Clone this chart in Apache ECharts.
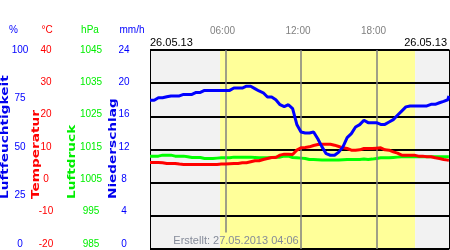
<!DOCTYPE html>
<html><head><meta charset="utf-8">
<script src="https://cdn.jsdelivr.net/npm/echarts@6/dist/echarts.min.js"></script>
<style>html,body{margin:0;padding:0;background:#fff}#c{width:450px;height:250px}</style>
</head><body><div id="c"></div><script>
const times = ['00:00','00:20','00:40','01:00','01:20','01:40','02:00','02:20','02:40','03:00','03:20','03:40',
'04:00','04:20','04:40','05:00','05:20','05:40','06:00','06:20','06:40','07:00','07:20','07:40',
'08:00','08:20','08:40','09:00','09:20','09:40','10:00','10:20','10:40','11:00','11:20','11:40',
'12:00','12:20','12:40','13:00','13:20','13:40','14:00','14:20','14:40','15:00','15:20','15:40',
'16:00','16:20','16:40','17:00','17:20','17:40','18:00','18:20','18:40','19:00','19:20','19:40',
'20:00','20:20','20:40','21:00','21:20','21:40','22:00','22:20','22:40','23:00','23:20','23:40','23:45'];
const humidity = [74.7,74.7,76.0,76.0,76.5,76.9,76.9,76.9,77.7,77.7,77.7,78.7,
78.7,79.7,79.7,79.7,79.7,79.7,79.7,79.7,80.9,80.9,80.9,81.8,
81.8,80.6,79.4,78.5,76.4,76.4,75.0,72.5,71.5,72.5,70.5,62.6,
58.8,58.3,58.3,58.8,55.4,51.3,47.9,47.1,47.1,48.7,51.3,56.0,
58.0,61.3,62.5,64.7,63.5,63.5,63.5,62.6,62.6,63.8,65.0,67.2,
69.3,71.4,71.9,71.9,71.9,71.9,71.9,72.7,72.7,73.5,74.2,75.0,76.9];
const temperature = [6.1,6.1,6.1,6.0,5.8,5.8,5.8,5.6,5.5,5.5,5.5,5.5,
5.5,5.5,5.5,5.5,5.5,5.6,5.6,5.7,5.8,5.8,6.0,6.0,
6.3,6.6,6.6,7.0,7.3,7.6,7.6,8.3,8.6,8.6,8.5,9.8,
10.5,10.6,10.8,11.2,11.5,11.6,11.6,11.6,11.3,10.9,10.5,10.3,
9.8,9.8,9.9,10.3,10.3,10.3,10.4,10.5,9.9,9.8,9.3,8.9,
8.3,8.3,8.3,8.3,8.0,8.0,7.8,7.8,7.5,7.3,7.0,6.8,6.7];
const pressure = [1013.0,1013.0,1013.0,1013.3,1013.3,1013.3,1013.0,1013.0,1013.0,1012.8,1012.6,1012.6,
1012.6,1012.3,1012.3,1012.3,1012.4,1012.5,1012.5,1012.5,1012.7,1012.7,1012.7,1012.7,
1012.7,1012.6,1012.5,1012.5,1012.5,1012.6,1012.7,1012.7,1013.0,1013.0,1012.6,1012.5,
1012.4,1012.3,1012.0,1012.0,1011.9,1011.8,1011.8,1011.8,1011.8,1011.8,1011.9,1012.0,
1012.0,1012.0,1012.0,1012.1,1012.0,1012.1,1012.3,1012.5,1012.5,1012.5,1012.6,1012.7,
1012.8,1012.8,1012.8,1012.8,1012.8,1012.8,1012.8,1012.8,1012.8,1012.8,1012.8,1012.8,1012.8];
const daylight = ['05:34','21:04'];
const hourMarks = [6, 12, 18];
const humidityTicks = [0, 25, 50, 75, 100];
const pressureTicks = [985, 995, 1005, 1015, 1025, 1035, 1045];
const dateLabel = '26.05.13';
const createdLabel = 'Erstellt: 27.05.2013 04:06';

function toH(s){const p=s.split(':').map(Number);return p[0]+p[1]/60;}
const xs = times.map(toH);
const pairs = arr => arr.map((v,i)=>[xs[i],v]);
const F = '"Liberation Sans", Arial, sans-serif';
const TF = '"DejaVu Sans", sans-serif';
const xMax = 23.76;
const dayStart = toH(daylight[0]), dayEnd = toH(daylight[1]);
const BLUE='#0000ff', RED='#ff0000', GREEN='#00ee00';

function labelAxis(extra, color, offset){
  return Object.assign({gridIndex:1,type:'value',position:'left',offset:offset,
    axisLine:{show:false},axisTick:{show:false},splitLine:{show:false},
    axisLabel:{color:color,fontSize:10,fontFamily:F,align:'center',margin:0,formatter:v=>String(v)}}, extra);
}
function txt(x,y,text,color,align,size,extra){
  return Object.assign({type:'text',x:x,y:y,z:20,style:{text:text,fill:color,font:(size||10)+'px '+F,
    align:align||'center',verticalAlign:'middle',textAlign:align||'center',textVerticalAlign:'middle'}}, extra||{});
}
function vtitle(x,text,color){
  return {type:'text',x:x,y:199,rotation:Math.PI/2,scaleX:1.24,z:20,
    style:{text:text,fill:color,font:'bold 11px '+TF,align:'left',verticalAlign:'middle',textAlign:'left',textVerticalAlign:'middle'}};
}

const chart = echarts.init(document.getElementById('c'));
const pCfg = labelAxis({min:985,max:1045},GREEN,59);
pCfg.axisLabel.customValues = pressureTicks;
const hCfg = labelAxis({min:0,max:100},BLUE,130);
hCfg.axisLabel.customValues = humidityTicks;
chart.setOption({
  animation:false,
  grid:[{left:150,top:50,width:299,height:199},{left:150,top:50,width:10,height:194}],
  xAxis:[
    {type:'value',gridIndex:0,min:0,max:xMax,interval:6,position:'top',
     axisLine:{show:false},axisTick:{show:false},splitLine:{show:false},
     axisLabel:{customValues:hourMarks,formatter:v=>String(v).padStart(2,'0')+':00',
       color:'#808080',fontSize:10,fontFamily:F,margin:14,padding:[0,6,0,0]}},
    {type:'value',gridIndex:1,show:false}
  ],
  yAxis:[
    {gridIndex:0,type:'value',min:-20,max:40,interval:10,position:'left',z:3,
     axisLine:{show:true,lineStyle:{color:'#000',width:1}},axisTick:{show:false},axisLabel:{show:false},
     splitLine:{show:true,lineStyle:{color:'#000',width:2}}},
    {gridIndex:0,type:'value',min:0,max:100,show:false},
    {gridIndex:0,type:'value',min:985,max:1045,show:false},
    {gridIndex:0,type:'value',min:0,max:24,position:'right',z:3,
     axisLine:{show:true,lineStyle:{color:'#000',width:1}},axisTick:{show:false},axisLabel:{show:false},splitLine:{show:false}},
    hCfg,
    labelAxis({min:-20,max:40,interval:10},RED,104),
    pCfg,
    labelAxis({min:0,max:24,interval:4},BLUE,26)
  ],
  series:[
    {type:'line',xAxisIndex:0,yAxisIndex:0,data:[],z:1,silent:true,
     markArea:{silent:true,data:[
       [{xAxis:0,itemStyle:{color:'#f2f2f2'}},{xAxis:dayStart}],
       [{xAxis:dayStart,itemStyle:{color:'#ffff99'}},{xAxis:dayEnd}],
       [{xAxis:dayEnd,itemStyle:{color:'#f2f2f2'}},{xAxis:xMax}]]},
     markLine:{silent:true,symbol:'none',label:{show:false},animation:false,
       lineStyle:{color:'#808080',width:1.5,type:'solid'},
       data:[[{coord:[hourMarks[0],40]},{coord:[hourMarks[0],-15]}],{xAxis:hourMarks[1]},{xAxis:hourMarks[2]}]}},
    {type:'line',xAxisIndex:0,yAxisIndex:2,data:pairs(pressure),showSymbol:false,z:4,
     lineStyle:{color:'#00ff00',width:3},itemStyle:{color:'#00ff00'}},
    {type:'line',xAxisIndex:0,yAxisIndex:0,data:pairs(temperature),showSymbol:false,z:5,
     lineStyle:{color:RED,width:3},itemStyle:{color:RED}},
    {type:'line',xAxisIndex:0,yAxisIndex:1,data:pairs(humidity),showSymbol:false,z:6,
     lineStyle:{color:BLUE,width:3},itemStyle:{color:BLUE}}
  ],
  graphic:[
    txt(13.5,30,'%',BLUE), txt(47,30,'°C',RED), txt(90,30,'hPa',GREEN), txt(132,30,'mm/h',BLUE),
    vtitle(5,'Luftfeuchtigkeit','#0000ee'), vtitle(36,'Temperatur',RED),
    vtitle(72,'Luftdruck',GREEN), vtitle(113,'Niederschlag','#0000ee'),
    txt(150,43,dateLabel,'#000','left',11), txt(447,43,dateLabel,'#000','right',11),
    txt(236,240.5,createdLabel,'#858b99','center',11)
  ]
});
</script></body></html>
